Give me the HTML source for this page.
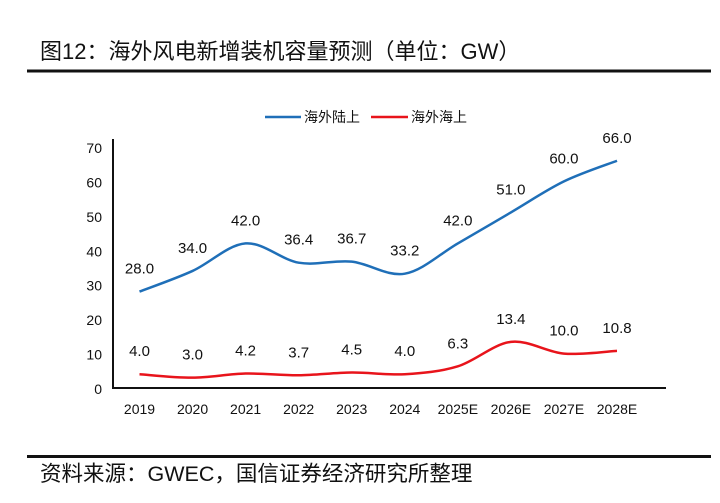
<!DOCTYPE html>
<html><head><meta charset="utf-8"><style>
body{margin:0;background:#fff;}
svg text{font-family:"Liberation Sans","Noto Sans CJK SC",sans-serif;fill:#111;}
</style></head><body>
<svg id="c" width="720" height="498" xmlns="http://www.w3.org/2000/svg">
<text x="40" y="59" font-size="22">图12：海外风电新增装机容量预测（单位：GW）</text>
<rect x="27" y="69.5" width="684" height="3" fill="#111"/>
<rect x="27" y="455" width="684" height="3" fill="#111"/>
<text x="40" y="481" font-size="21.5">资料来源：GWEC，国信证券经济研究所整理</text>
<g>
<line x1="265" y1="117" x2="301" y2="117" stroke="#1f6fb8" stroke-width="2.5"/>
<text x="304" y="122" font-size="14">海外陆上</text>
<line x1="371" y1="117" x2="408" y2="117" stroke="#e8141b" stroke-width="2.5"/>
<text x="411" y="122" font-size="14">海外海上</text>
</g>
<g id="plot"></g>
</svg>
<script>
const categories=["2019","2020","2021","2022","2023","2024","2025E","2026E","2027E","2028E"];
const onshore=[28.0,34.0,42.0,36.4,36.7,33.2,42.0,51.0,60.0,66.0];
const offshore=[4.0,3.0,4.2,3.7,4.5,4.0,6.3,13.4,10.0,10.8];
const yTicks=[0,10,20,30,40,50,60,70];
const NS="http://www.w3.org/2000/svg";
const g=document.getElementById('plot');
const x0=113,x1=666,y0=388,y70=147;
const X=i=>x0+26.5+i*(x1-x0-53)/(categories.length-1)*0.955;
const Y=v=>y0-(v/70)*(y0-y70);
function el(t,a){const e=document.createElementNS(NS,t);for(const k in a)e.setAttribute(k,a[k]);g.appendChild(e);return e;}
yTicks.forEach(t=>{const e=el('text',{x:102,y:Y(t)+6,'font-size':14,'text-anchor':'end'});e.textContent=t;

});
categories.forEach((c,i)=>{const e=el('text',{x:X(i),y:414,'font-size':14,'text-anchor':'middle'});e.textContent=c;

});
const ax=el('path',{d:`M${x0},${y70-8}V${y0}H${x1}`,fill:'none',stroke:'#111','stroke-width':2});


function smooth(vals){const p=vals.map((v,i)=>[X(i),Y(v)]);let d=`M${p[0][0]},${p[0][1]}`;
for(let i=0;i<p.length-1;i++){const a=p[Math.max(i-1,0)],b=p[i],c=p[i+1],e=p[Math.min(i+2,p.length-1)];
const t=1/6;d+=` C${b[0]+(c[0]-a[0])*t},${b[1]+(c[1]-a[1])*t} ${c[0]-(e[0]-b[0])*t},${c[1]-(e[1]-b[1])*t} ${c[0]},${c[1]}`;}return d;}
function series(vals,color,name){const l=el('path',{d:smooth(vals),fill:'none',stroke:color,'stroke-width':2.5});


vals.forEach((v,i)=>{const t=el('text',{x:X(i),y:Y(v)-18,'font-size':15,'text-anchor':'middle'});t.textContent=v.toFixed(1);

});}
series(onshore,'#1f6fb8','onshore');
series(offshore,'#e8141b','offshore');
</script>
</body></html>
